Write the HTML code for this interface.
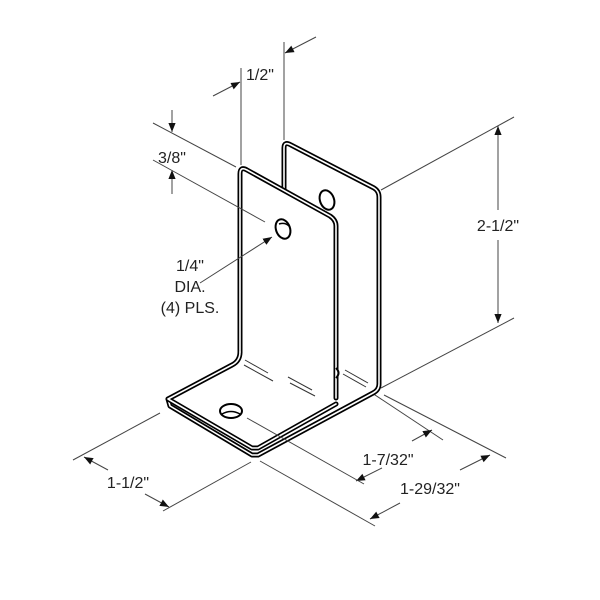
<!DOCTYPE html>
<html><head><style>html,body{margin:0;padding:0;background:#fff}svg{display:block}text{font-family:"Liberation Sans",sans-serif;font-size:16px;fill:#222}</style></head><body>
<svg width="600" height="600" viewBox="0 0 600 600" xmlns="http://www.w3.org/2000/svg">
<defs>
<marker id="a" viewBox="0 0 10 10" refX="10" refY="5" markerWidth="9" markerHeight="9" orient="auto-start-reverse" markerUnits="userSpaceOnUse"><path d="M0,1 L10,5 L0,9z" fill="#111"/></marker>
</defs>
<g stroke="#444" stroke-width="1" fill="none">
<line x1="241" y1="68" x2="241" y2="165"/>
<line x1="284" y1="42" x2="284" y2="140"/>
<line x1="213" y1="96" x2="240" y2="82" marker-end="url(#a)"/>
<line x1="316" y1="37" x2="285" y2="53" marker-end="url(#a)"/>
<line x1="153" y1="123" x2="236" y2="167"/>
<line x1="172" y1="110" x2="172" y2="132" marker-end="url(#a)"/>
<line x1="172" y1="194" x2="172" y2="170" marker-end="url(#a)"/>
<line x1="381" y1="190" x2="514" y2="117"/>
<line x1="381" y1="388" x2="514" y2="318"/>
<line x1="498" y1="210" x2="498" y2="126" marker-end="url(#a)"/>
<line x1="498" y1="240" x2="498" y2="323" marker-end="url(#a)"/>
<line x1="160" y1="413" x2="73" y2="460"/>
<line x1="251" y1="462" x2="163" y2="511"/>
<line x1="108" y1="470" x2="84" y2="457" marker-end="url(#a)"/>
<line x1="145" y1="494" x2="169" y2="507" marker-end="url(#a)"/>
<line x1="372" y1="393" x2="443" y2="440"/>
<line x1="382" y1="468" x2="356" y2="481" marker-end="url(#a)"/>
<line x1="412" y1="441" x2="432" y2="430" marker-end="url(#a)"/>
<line x1="260" y1="461" x2="375" y2="526"/>
<line x1="384" y1="395" x2="506" y2="458"/>
<line x1="400" y1="503" x2="370" y2="519" marker-end="url(#a)"/>
<line x1="460" y1="470" x2="490" y2="455" marker-end="url(#a)"/>
</g>
<g fill="none" stroke-linejoin="round" stroke-linecap="round">
<path d="M284,193 L284,148 Q284,141 291,145 L374,188 Q379,191 379,197 L379,384 Q379,390 373,393 L258,455 L252,455 L170,406 L168,399" stroke="#000" stroke-width="5"/>
<path d="M284,193 L284,148 Q284,141 291,145 L374,188 Q379,191 379,197 L379,384 Q379,390 373,393 L258,455 L252,455 L170,406 L168,399" stroke="#fff" stroke-width="1.6"/>
<ellipse cx="327" cy="200" rx="7" ry="10" transform="rotate(-20 327 200)" fill="#fff" stroke="#000" stroke-width="2"/>
<path d="M240,352 L240,174 Q240,166 247,170 L330,216 Q336,220 336,226 L336,404 L258,448 L252,448 L168,399 L232,365 Q240,361 240,352z" fill="#fff" stroke="none"/>
<g stroke="#000" stroke-width="5">
<path d="M240,352 L240,174 Q240,166 247,170 L330,216 Q336,220 336,226 L336,398"/>
<path d="M240,352 Q240,361 232,365 L168,399 L252,448 L258,448 L336,404"/>
</g>
<g stroke="#fff" stroke-width="1.6">
<path d="M240,352 L240,174 Q240,166 247,170 L330,216 Q336,220 336,226 L336,398"/>
<path d="M240,352 Q240,361 232,365 L168,399 L252,448 L258,448 L336,404"/>
</g>
</g>
<g stroke="#444" stroke-width="1" fill="none">
<line x1="153" y1="160" x2="265" y2="222"/>
<line x1="200" y1="283" x2="272" y2="237" marker-end="url(#a)"/>
<line x1="247" y1="418" x2="364" y2="484"/>
</g>
<g fill="#fff" stroke="#000" stroke-width="2">
<ellipse cx="283" cy="229" rx="7" ry="10" transform="rotate(-20 283 229)"/>
<path d="M279,224 Q285,222 289,226" fill="none" stroke-width="1.5"/>
<ellipse cx="231" cy="411" rx="11" ry="7"/>
<path d="M222,414 Q231,409 240,414" fill="none" stroke-width="1.5"/>
<path d="M336,368 Q341,373 336,378" fill="#fff"/>
</g>
<g stroke="#333" stroke-width="1">
<line x1="245" y1="360" x2="268" y2="373"/>
<line x1="244" y1="365" x2="273" y2="381"/>
<line x1="288" y1="377" x2="312" y2="390"/>
<line x1="290" y1="383" x2="315" y2="396"/>
<line x1="345" y1="370" x2="368" y2="383"/>
<line x1="343" y1="374" x2="366" y2="387"/>
</g>
<text x="246" y="80">1/2"</text>
<text x="158" y="163">3/8"</text>
<text x="190" y="271" text-anchor="middle">1/4"</text>
<text x="190" y="292" text-anchor="middle">DIA.</text>
<text x="190" y="313" text-anchor="middle">(4) PLS.</text>
<text x="498" y="231" text-anchor="middle">2-1/2"</text>
<text x="128" y="488" text-anchor="middle">1-1/2"</text>
<text x="388" y="465" text-anchor="middle">1-7/32"</text>
<text x="430" y="494" text-anchor="middle">1-29/32"</text>
</svg>
</body></html>
